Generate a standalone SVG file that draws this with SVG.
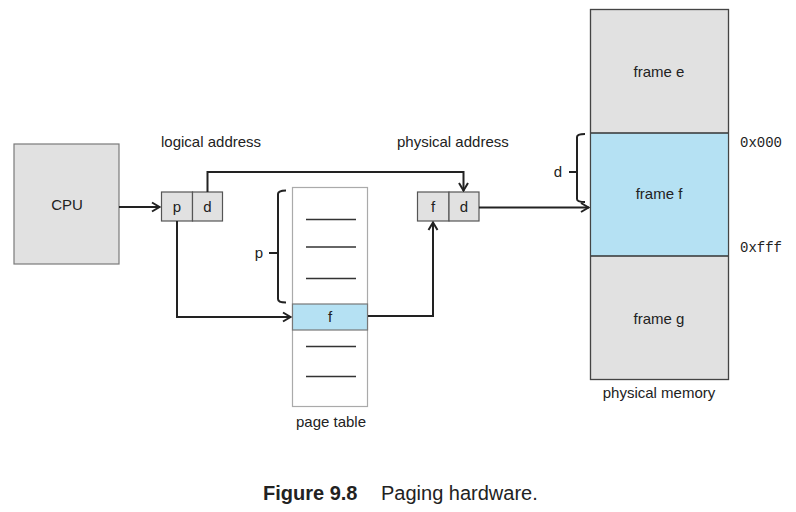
<svg xmlns="http://www.w3.org/2000/svg" width="796" height="512" viewBox="0 0 796 512">
<style>
text{font-family:"Liberation Sans",Arial,Helvetica,sans-serif;fill:#222;font-size:15px}
.c{text-anchor:middle}
.mono{font-family:"Liberation Mono","Courier New",monospace;font-size:14px}
.gray{fill:#e1e1e1;stroke:#7a7a7a;stroke-width:1.2}
.cell{fill:#e1e1e1;stroke:#555;stroke-width:1.2}
.blue{fill:#b5e1f3}
.conn{fill:none;stroke:#222;stroke-width:2}
.brace{fill:none;stroke:#222;stroke-width:2}
.tick{stroke:#333;stroke-width:1.5}
</style>
<defs>
<marker id="arr" viewBox="0 0 12 12" refX="11" refY="6" markerWidth="12" markerHeight="12" markerUnits="userSpaceOnUse" orient="auto">
<path d="M3,1.5 L10.5,6 L3,10.5" fill="none" stroke="#222" stroke-width="2"/>
</marker>
</defs>
<rect width="796" height="512" fill="#fff"/>

<g id="cpu">
<rect class="gray" x="14" y="144" width="105" height="120"/>
<text class="c" x="67" y="210">CPU</text>
</g>

<g id="logical-address">
<text x="161" y="147">logical address</text>
<rect class="cell" x="161.5" y="192" width="31" height="29"/>
<rect class="cell" x="192.5" y="192" width="30" height="29"/>
<text class="c" x="177" y="212">p</text>
<text class="c" x="207.5" y="212">d</text>
</g>

<g id="physical-address">
<text x="397" y="147">physical address</text>
<rect class="cell" x="417.5" y="192" width="31.5" height="29"/>
<rect class="cell" x="449" y="192" width="30" height="29"/>
<text class="c" x="433" y="212">f</text>
<text class="c" x="464" y="212">d</text>
</g>

<g id="page-table">
<rect x="292.5" y="187.5" width="75" height="219" fill="#fff" stroke="#aaa" stroke-width="1.2"/>
<rect class="blue" x="292.5" y="304" width="75" height="26" stroke="#777" stroke-width="1.2"/>
<text class="c" x="330" y="322">f</text>
<g class="tick">
<line x1="306" y1="219.5" x2="356" y2="219.5"/>
<line x1="306" y1="247" x2="356" y2="247"/>
<line x1="306" y1="278.5" x2="356" y2="278.5"/>
<line x1="306" y1="346.5" x2="356" y2="346.5"/>
<line x1="306" y1="376.5" x2="356" y2="376.5"/>
</g>
<path class="brace" d="M286,190.5 Q278,190.5 278,194 L278,299 Q278,302.5 286,302.5 M269,253 L278,253"/>
<text class="c" x="259" y="258">p</text>
<text class="c" x="331" y="427">page table</text>
</g>

<g id="physical-memory">
<rect class="gray" x="590.5" y="9.5" width="138" height="370" stroke="#444"/>
<rect class="blue" x="590.5" y="133" width="138" height="123"/>
<line x1="590.5" y1="133" x2="728.5" y2="133" stroke="#333" stroke-width="1.5"/>
<line x1="590.5" y1="256" x2="728.5" y2="256" stroke="#333" stroke-width="1.5"/>
<rect x="590.5" y="9.5" width="138" height="370" fill="none" stroke="#444" stroke-width="1.2"/>
<text class="c" x="659" y="77">frame e</text>
<text class="c" x="659" y="199">frame f</text>
<text class="c" x="659" y="324">frame g</text>
<text class="c" x="659" y="398">physical memory</text>
<text class="mono" x="740" y="147">0x000</text>
<text class="mono" x="740" y="252">0xfff</text>
<path class="brace" d="M585,134 Q577,134 577,137 L577,199 Q577,202 585,202 M569,172 L577,172"/>
<text class="c" x="558" y="177">d</text>
</g>

<g id="connectors">
<path class="conn" d="M119,207 L160,207" marker-end="url(#arr)"/>
<path class="conn" d="M207.5,192 L207.5,172 L463.5,172 L463.5,191" marker-end="url(#arr)"/>
<path class="conn" d="M177,221 L177,317 L291,317" marker-end="url(#arr)"/>
<path class="conn" d="M368,316 L433,316 L433,222" marker-end="url(#arr)"/>
<path class="conn" d="M479,207.5 L589,207.5" marker-end="url(#arr)"/>
</g>

<g id="caption">
<text x="263" y="500" style="font-size:20px;font-weight:bold">Figure 9.8</text>
<text x="381" y="500" style="font-size:20px">Paging hardware.</text>
</g>
</svg>
